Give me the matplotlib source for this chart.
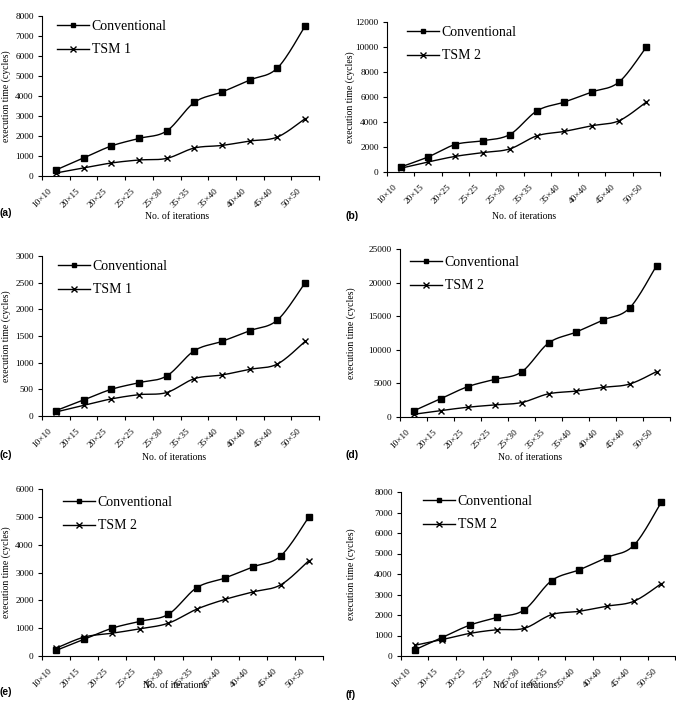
import numpy as np
import matplotlib
matplotlib.use("Agg")
import matplotlib.pyplot as plt
import matplotlib.transforms as mtransforms

plt.rcParams['font.family'] = ['Liberation Serif', 'DejaVu Serif']

# ---------------- data ----------------
categories = ["10\u00d710", "20\u00d715", "20\u00d725", "25\u00d725", "25\u00d730",
              "35\u00d735", "35\u00d740", "40\u00d740", "45\u00d740", "50\u00d750"]

conv_a = [300, 900, 1500, 1880, 2250, 3680, 4200, 4800, 5400, 7500]
tsm_a = [150, 400, 650, 800, 880, 1400, 1530, 1750, 1950, 2870]

conv_b = [400, 1200, 2200, 2500, 3000, 4900, 5600, 6400, 7200, 10000]
tsm_b = [300, 800, 1250, 1550, 1850, 2900, 3250, 3700, 4100, 5600]

conv_c = [100, 300, 500, 625, 750, 1225, 1400, 1600, 1800, 2500]
tsm_c = [75, 200, 320, 400, 440, 700, 770, 875, 975, 1400]

conv_d = [900, 2700, 4500, 5600, 6700, 11000, 12600, 14400, 16200, 22500]
tsm_d = [400, 950, 1450, 1800, 2150, 3450, 3850, 4400, 4900, 6750]

conv_e = [200, 600, 1000, 1250, 1500, 2450, 2800, 3200, 3600, 5000]
tsm_e = [280, 680, 820, 980, 1180, 1680, 2030, 2300, 2560, 3430]

conv_f = [300, 900, 1500, 1880, 2250, 3680, 4200, 4800, 5400, 7500]
tsm_f = [520, 800, 1100, 1280, 1350, 2020, 2180, 2430, 2670, 3530]

tsm_labels = ["TSM 1", "TSM 2", "TSM 1", "TSM 2", "TSM 2", "TSM 2"]
panel_letters = ["(a)", "(b)", "(c)", "(d)", "(e)", "(f)"]
y_max = [8000, 12000, 3000, 25000, 6000, 8000]
y_step = [1000, 2000, 500, 5000, 1000, 1000]

series = [(conv_a, tsm_a), (conv_b, tsm_b), (conv_c, tsm_c),
          (conv_d, tsm_d), (conv_e, tsm_e), (conv_f, tsm_f)]

# ---------------- layout (pixels) ----------------
W, H = 676, 702
# left, right, top, bottom of each axes
boxes = [(42, 319, 16, 176), (387, 660, 22, 172),
         (42, 319, 256, 416), (400, 670, 249, 417),
         (42, 323, 489, 656), (401, 675, 492, 656)]
legend_pos = [(57, 20), (407, 26), (58, 260), (410, 256), (63, 496), (423, 495)]
xlabel_pos = [(177, 217), (524, 217), (174, 457), (530, 457), (175, 686), (525, 686)]
ylabel_x = [6, 350, 6, 351, 6, 351]
letter_pos = [(0, 213), (346, 216), (0, 455), (345, 455), (0, 692), (345, 695)]


def smooth(y, n=24):
    x = np.arange(len(y), dtype=float)
    pts = np.column_stack([x, np.asarray(y, dtype=float)])
    P = np.vstack([pts[0], pts, pts[-1]])
    out = []
    t = np.linspace(0, 1, n)[:, None]
    for i in range(len(pts) - 1):
        p0, p1, p2, p3 = P[i], P[i + 1], P[i + 2], P[i + 3]
        c1 = p1 + (p2 - p0) / 6.0
        c2 = p2 - (p3 - p1) / 6.0
        seg = ((1 - t) ** 3) * p1 + 3 * ((1 - t) ** 2) * t * c1 + 3 * (1 - t) * (t ** 2) * c2 + (t ** 3) * p2
        out.append(seg if i == 0 else seg[1:])
    return np.vstack(out)


fig = plt.figure(figsize=(W / 100, H / 100), dpi=100)
fig.patch.set_facecolor("white")

tick_fs = 6.7
n = len(categories)
xs = np.arange(n)

for k in range(6):
    l, r, t, b = boxes[k]
    ax = fig.add_axes([l / W, 1 - b / H, (r - l) / W, (b - t) / H])
    conv, tsm = series[k]

    sc = smooth(conv)
    st = smooth(tsm)
    ax.plot(sc[:, 0], sc[:, 1], color="black", lw=1.0, zorder=3)
    ax.plot(st[:, 0], st[:, 1], color="black", lw=1.0, zorder=3)
    ax.plot(xs, conv, ls="none", marker="s", ms=4.0, color="black", zorder=4)
    ax.plot(xs, tsm, ls="none", marker="x", ms=5.0, mew=1.0, color="black", zorder=4)

    # legend proxies
    h1, = ax.plot([], [], color="black", lw=1.0, marker="s", ms=3.2)
    h2, = ax.plot([], [], color="black", lw=1.0, marker="x", ms=4.0, mew=1.0)
    lx, ly = legend_pos[k]
    ax.legend([h1, h2], ["Conventional", tsm_labels[k]], loc="upper left",
              bbox_to_anchor=(lx / W, 1 - ly / H), bbox_transform=fig.transFigure,
              frameon=False, fontsize=10, borderpad=0, borderaxespad=0,
              handlelength=2.3, handletextpad=0.2, labelspacing=0.75, numpoints=1)

    ax.set_xlim(-0.5, n - 0.5)
    ax.set_ylim(0, y_max[k])
    ax.set_yticks(np.arange(0, y_max[k] + 1, y_step[k]))
    ax.tick_params(axis="y", direction="out", length=3, width=0.8, pad=3,
                   labelsize=tick_fs, colors="black")

    ax.set_xticks(np.arange(-0.5, n, 1.0))
    ax.set_xticklabels([])
    ax.tick_params(axis="x", direction="out", length=3, width=0.8)

    offset = mtransforms.Affine2D().translate(-5, -14)
    trans = ax.get_xaxis_transform() + offset
    for i, lab in enumerate(categories):
        ax.text(i, 0, lab, transform=trans, rotation=45, rotation_mode="anchor",
                ha="right", va="center", fontsize=tick_fs, clip_on=False)

    for s in ["top", "right"]:
        ax.spines[s].set_visible(False)
    for s in ["left", "bottom"]:
        ax.spines[s].set_linewidth(0.8)
        ax.spines[s].set_color("black")
    ax.set_facecolor("none")

    xl, yl = xlabel_pos[k]
    fig.text(xl / W, 1 - yl / H, "No. of iterations", ha="center", va="center", fontsize=7)
    fig.text(ylabel_x[k] / W, 1 - ((t + b) / 2) / H, "execution time (cycles)",
             rotation=90, ha="center", va="center", fontsize=7)
    px, py = letter_pos[k]
    fig.text(px / W, 1 - py / H, panel_letters[k], ha="left", va="center",
             fontsize=7.5, fontweight="bold", family="Liberation Sans")

fig.savefig("out.png", dpi=100, facecolor="white")
